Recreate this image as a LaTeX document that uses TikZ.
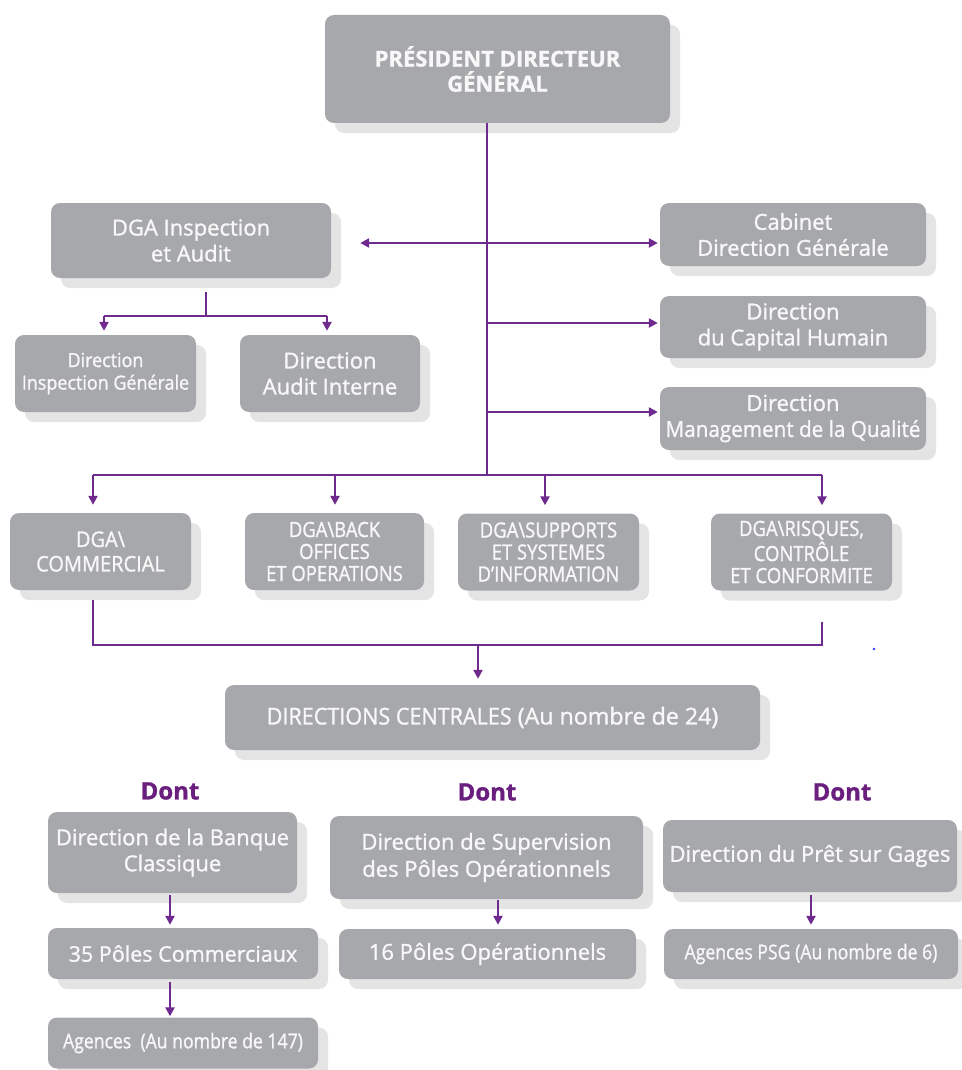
\documentclass[tikz,border=0pt]{standalone}
\usepackage{fontspec}
\setmainfont{Open Sans}[FakeBold=1.2]
\usetikzlibrary{shadows,arrows.meta}
\definecolor{boxgray}{HTML}{A7A8AB}
\definecolor{boxtext}{HTML}{F8F8F8}
\definecolor{shadowgray}{HTML}{E4E4E4}
\definecolor{lineviolet}{HTML}{6F2A8E}
\definecolor{dontviolet}{HTML}{6A1F7E}
\newcommand{\fs}[1]{\fontsize{#1}{#1}\selectfont}
\newcommand{\cnd}[2][0.86]{\scalebox{#1}[1]{#2}}
\tikzset{
  orgbox/.style={fill=boxgray, rounded corners=9pt, text=boxtext, align=center,
    inner sep=0pt, font=\fs{22},
    drop shadow={shadow xshift=10pt, shadow yshift=-10pt, fill=shadowgray, opacity=1}},
  link/.style={draw=lineviolet, line width=2.6pt},
  arr/.style={link, -{Triangle[length=9pt,width=9pt]}},
  donttext/.style={text=dontviolet, font=\bfseries\fs{24}, inner sep=0pt}
}
\begin{document}
\begin{tikzpicture}[x=1pt,y=-1pt]
\useasboundingbox (0,0) rectangle (961,1070);
% boxes
\node[orgbox, minimum width=345pt, minimum height=108pt, font=\bfseries\fs{22}] (pdg) at (497.5,69)
  {PRÉSIDENT DIRECTEUR\\[3pt]GÉNÉRAL};
\node[orgbox, minimum width=280pt, minimum height=75pt] (dgaia) at (191,240.5)
  {DGA Inspection\\[4pt]et Audit};
\node[orgbox, minimum width=266pt, minimum height=63pt] (cab) at (793,234.5)
  {Cabinet\\[4pt]Direction Générale};
\node[orgbox, minimum width=266pt, minimum height=62pt] (cap) at (793,327)
  {Direction\\[4pt]du Capital Humain};
\node[orgbox, minimum width=266pt, minimum height=63pt] (qual) at (793,418.5)
  {Direction\\[4pt]\cnd[0.94]{Management de la Qualité}};
\node[orgbox, minimum width=181pt, minimum height=77pt, font=\fs{19.5}] (dig) at (105.5,373.5)
  {\cnd[0.92]{Direction}\\[3pt]\cnd[0.92]{Inspection Générale}};
\node[orgbox, minimum width=180pt, minimum height=77pt] (dai) at (330,373.5)
  {Direction\\[4pt]Audit Interne};
\node[orgbox, minimum width=181pt, minimum height=77pt, font=\fs{21.5}] (com) at (100.5,551.5)
  {\cnd[0.93]{DGA\textbackslash}\\[3pt]\cnd[0.93]{COMMERCIAL}};
\node[orgbox, minimum width=179pt, minimum height=77pt, font=\fs{21}] (back) at (334.5,551.5)
  {\cnd[0.88]{DGA\textbackslash BACK}\\[1pt]\cnd[0.88]{OFFICES}\\[1pt]\cnd[0.88]{ET OPERATIONS}};
\node[orgbox, minimum width=181pt, minimum height=77pt, font=\fs{21}] (sup) at (548.5,552)
  {\cnd[0.88]{DGA\textbackslash SUPPORTS}\\[1pt]\cnd[0.88]{ET SYSTEMES}\\[1pt]\cnd[0.88]{D'INFORMATION}};
\node[orgbox, minimum width=181pt, minimum height=77pt, font=\fs{21}] (ris) at (801.5,552)
  {\cnd[0.88]{DGA\textbackslash RISQUES,}\\[1pt]\cnd[0.88]{CONTRÔLE}\\[1pt]\cnd[0.88]{ET CONFORMITE}};
\node[orgbox, minimum width=535pt, minimum height=65pt, font=\fs{23.2}] (dc) at (492.5,717.5)
  {\cnd[0.93]{DIRECTIONS CENTRALES} (Au nombre de 24)};
\node[donttext] (d1) at (170,791) {Dont};
\node[donttext] (d2) at (487,792) {Dont};
\node[donttext] (d3) at (842,792) {Dont};
\node[orgbox, minimum width=249pt, minimum height=81pt] (bc) at (172.5,852.5)
  {Direction de la Banque\\[4pt]Classique};
\node[orgbox, minimum width=270pt, minimum height=51pt, font=\fs{21.5}] (pc) at (183,953.5)
  {35 Pôles Commerciaux};
\node[orgbox, minimum width=270pt, minimum height=51pt, font=\fs{20.5}] (ag) at (183,1043)
  {\cnd[0.86]{Agences \ (Au nombre de 147)}};
\node[orgbox, minimum width=313pt, minimum height=83pt] (sv) at (486.5,857.5)
  {Direction de Supervision\\[4pt]des Pôles Opérationnels};
\node[orgbox, minimum width=297pt, minimum height=50pt] (p16) at (487.5,954)
  {16 Pôles Opérationnels};
\node[orgbox, minimum width=294pt, minimum height=72pt] (pg) at (810,856)
  {Direction du Prêt sur Gages};
\node[orgbox, minimum width=294pt, minimum height=50pt, font=\fs{20.5}] (psg) at (811,954)
  {\cnd[0.86]{Agences PSG (Au nombre de 6)}};
% trunk
\coordinate (t0) at (487,123);
\coordinate (t1) at (487,243);
\coordinate (t2) at (487,323);
\coordinate (t3) at (487,412);
\coordinate (t4) at (487,475);
\draw[link] (t0) -- (t4);
\draw[arr, shorten >=29pt] (t1) -- (t1 -| dgaia.east);
\draw[arr, shorten >=2pt] (t1) -- (t1 -| cab.west);
\draw[arr, shorten >=2pt] (t2) -- (t2 -| cap.west);
\draw[arr, shorten >=2pt] (t3) -- (t3 -| qual.west);
% DGA row
\coordinate (hL) at (93,475);
\coordinate (hB) at (335,475);
\coordinate (hS) at (545,475);
\coordinate (hR) at (822,475);
\draw[link] (hL) -- (hR);
\draw[arr, shorten >=8pt] (hL) -- (hL |- com.north);
\draw[arr, shorten >=8pt] (hB) -- (hB |- back.north);
\draw[arr, shorten >=8pt] (hS) -- (hS |- sup.north);
\draw[arr, shorten >=8pt] (hR) -- (hR |- ris.north);
% DGA inspection subtree
\coordinate (i0) at (206,292);
\coordinate (i1) at (206,316);
\coordinate (iL) at (104,316);
\coordinate (iR) at (327,316);
\draw[link] (i0) -- (i1);
\draw[link] (iL) -- (iR);
\draw[arr, shorten >=4pt] (iL) -- (iL |- dig.north);
\draw[arr, shorten >=4pt] (iR) -- (iR |- dai.north);
% bottom merge
\coordinate (m0) at (93,600);
\coordinate (mL) at (93,645);
\coordinate (mR) at (822,645);
\coordinate (mR0) at (822,622);
\coordinate (mC) at (478,645);
\draw[link] (m0) -- (mL) -- (mR) -- (mR0);
\draw[arr, shorten >=6pt] (mC) -- (mC |- dc.north);
% lower branches
\coordinate (b1) at (170,895);
\coordinate (b2) at (170,982);
\coordinate (b3) at (498,900);
\coordinate (b4) at (811,895);
\draw[arr, shorten >=3pt] (b1) -- (b1 |- pc.north);
\draw[arr, shorten >=1pt] (b2) -- (b2 |- ag.north);
\draw[arr, shorten >=4pt] (b3) -- (b3 |- p16.north);
\draw[arr, shorten >=4pt] (b4) -- (b4 |- psg.north);
% stray dot
\fill[blue!80] (874,649) circle (1.3pt);
\end{tikzpicture}
\end{document}
